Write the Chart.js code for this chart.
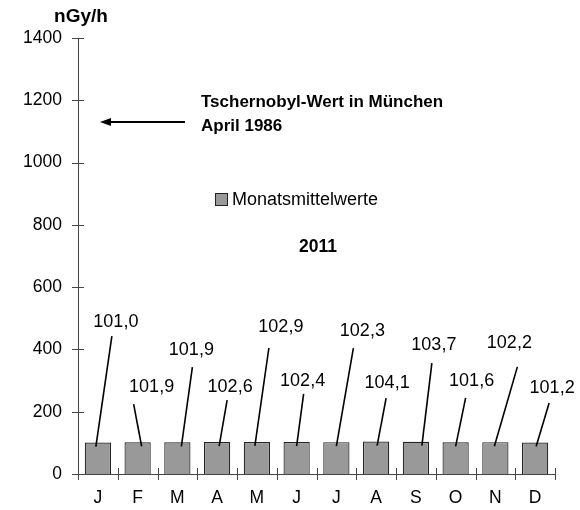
<!DOCTYPE html>
<html>
<head>
<meta charset="utf-8">
<script src="https://cdn.jsdelivr.net/npm/chart.js@4/dist/chart.umd.min.js"></script>
<style>
  body { margin: 0; background: #fff; }
  canvas { display: block; }
</style>
</head>
<body>
<canvas id="chart" width="580" height="510"></canvas>
<script>
const months = ['J', 'F', 'M', 'A', 'M', 'J', 'J', 'A', 'S', 'O', 'N', 'D'];
const monthlyMeans = [101.0, 101.9, 101.9, 102.6, 102.9, 102.4, 102.3, 104.1, 103.7, 101.6, 102.2, 101.2];
const yTicks = [0, 200, 400, 600, 800, 1000, 1200, 1400];
const chernobylValue = 1130;
const seriesName = 'Monatsmittelwerte';
const yearLabel = '2011';
const unitLabel = 'nGy/h';
const noteLines = ['Tschernobyl-Wert in München', 'April 1986'];

// where each value label sits (y in axis units, offsets in px)
const labelY = [488, 279, 398, 279, 472, 299, 459, 292, 414, 299, 421, 276];
const labelDx = [18, 14, 14, 13, 24, 6, 26, 11, 18, 16, 14, 17];
const lineTopDx = [-4, -18, 1, -3, -12, 1, -9, -1, -2, -6, 8, -3];
const lineTopDy = [14, 17, 17, 13, 21, 13, 17, 15, 18, 17, 24, 15];
const lineEndDx = [-2, 4, 4, 2, -2, 0, 0, 1, 6, 0, -1, 1];

const FONT = '"Liberation Sans", Arial, sans-serif';
const AXIS = '#444';
const BAR_FILL = '#999999';
const BAR_EDGE = '#222';

const extras = {
  id: 'extras',
  afterDraw(chart) {
    const c = chart.ctx;
    const x = chart.scales.x, y = chart.scales.y;
    const area = chart.chartArea;
    c.save();

    // crossing tick marks
    c.strokeStyle = AXIS;
    c.lineWidth = 1;
    c.beginPath();
    yTicks.forEach(v => {
      const py = Math.round(y.getPixelForValue(v)) + 0.5;
      c.moveTo(area.left - 6, py);
      c.lineTo(area.left + 6, py);
    });
    const half = (x.getPixelForValue(1) - x.getPixelForValue(0)) / 2;
    for (let i = 0; i <= months.length; i++) {
      const px = Math.round(x.getPixelForValue(i) - half) + 0.5;
      c.moveTo(px, area.bottom - 6);
      c.lineTo(px, area.bottom + 6);
    }
    c.stroke();

    // value labels with leader lines
    const meta = chart.getDatasetMeta(0);
    c.font = '18px ' + FONT;
    c.fillStyle = '#000';
    c.textAlign = 'center';
    c.textBaseline = 'middle';
    meta.data.forEach((bar, i) => {
      const tx = bar.x + labelDx[i];
      const ty = y.getPixelForValue(labelY[i]);
      c.fillText(monthlyMeans[i].toFixed(1).replace('.', ','), tx, ty);
      c.beginPath();
      c.lineWidth = 1.6;
      c.strokeStyle = '#000';
      c.moveTo(tx + lineTopDx[i], ty + lineTopDy[i]);
      c.lineTo(bar.x + lineEndDx[i], bar.y + 4);
      c.stroke();
    });

    // unit, centred over the y axis
    c.font = 'bold 19px ' + FONT;
    c.fillText(unitLabel, area.left + 3, 17);

    // Chernobyl arrow + note
    const ay = y.getPixelForValue(chernobylValue);
    c.beginPath();
    c.lineWidth = 2;
    c.moveTo(185, ay);
    c.lineTo(108, ay);
    c.stroke();
    c.beginPath();
    c.moveTo(100, ay);
    c.lineTo(111, ay - 4);
    c.lineTo(111, ay + 4);
    c.closePath();
    c.fill();
    c.textAlign = 'left';
    c.font = 'bold 17px ' + FONT;
    c.fillText(noteLines[0], 201, ay - 20);
    c.fillText(noteLines[1], 201, ay + 4);

    // legend
    c.fillStyle = BAR_FILL;
    c.fillRect(215.5, 193.5, 12, 12);
    c.strokeStyle = BAR_EDGE;
    c.lineWidth = 1;
    c.strokeRect(215.5, 193.5, 12, 12);
    c.fillStyle = '#000';
    c.font = '18px ' + FONT;
    c.fillText(seriesName, 232, 200);

    // year
    c.textAlign = 'center';
    c.font = 'bold 17.5px ' + FONT;
    c.fillText(yearLabel, 318, 247);

    c.restore();
  }
};

new Chart(document.getElementById('chart'), {
  type: 'bar',
  data: {
    labels: months,
    datasets: [{
      label: seriesName,
      data: monthlyMeans,
      backgroundColor: BAR_FILL,
      borderColor: BAR_EDGE,
      borderWidth: 1.2,
      barPercentage: 0.66,
      categoryPercentage: 1
    }]
  },
  options: {
    responsive: false,
    animation: false,
    layout: { padding: { top: 38, right: 25, left: 0, bottom: 0 } },
    plugins: { legend: { display: false }, tooltip: { enabled: false } },
    scales: {
      x: {
        offset: true,
        grid: { display: false, drawTicks: false },
        border: { color: AXIS, width: 1 },
        ticks: { color: '#000', padding: 14, font: { family: FONT, size: 17.5 } },
        afterFit(s) { s.height = 36; }
      },
      y: {
        min: 0,
        max: 1400,
        afterBuildTicks(s) { s.ticks = yTicks.map(v => ({ value: v })); },
        grid: { display: false, drawTicks: false },
        border: { color: AXIS, width: 1 },
        ticks: {
          color: '#000', padding: 16, font: { family: FONT, size: 17.5 },
          callback: v => String(v)
        },
        afterFit(s) { s.width = 78; }
      }
    }
  },
  plugins: [extras]
});
</script>
</body>
</html>
